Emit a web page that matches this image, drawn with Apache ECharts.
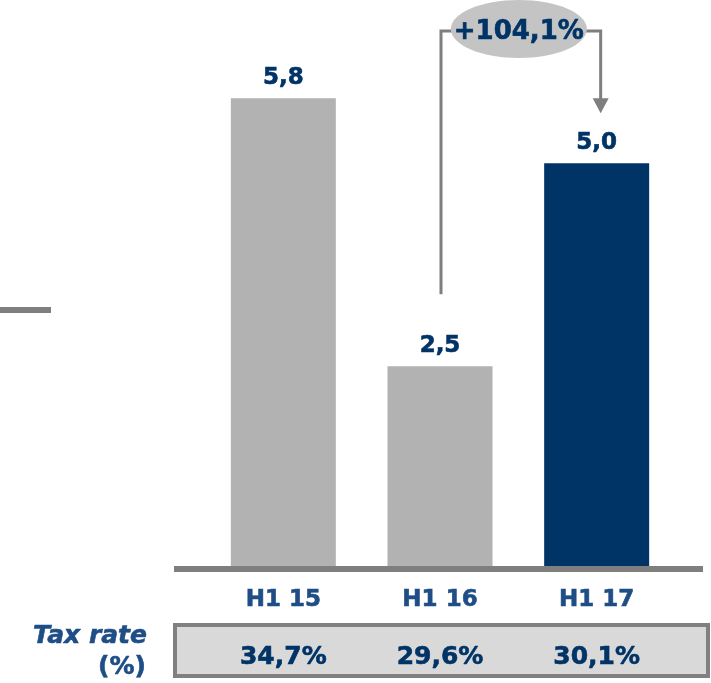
<!DOCTYPE html>
<html>
<head>
<meta charset="utf-8">
<script src="https://cdn.jsdelivr.net/npm/echarts@6/dist/echarts.min.js"></script>
<style>
  html, body { margin: 0; padding: 0; background: #fff; }
  #chart { width: 711px; height: 683px; }
</style>
</head>
<body>
<div id="chart"></div>
<script>
// datos
const categorias = ["H1 15", "H1 16", "H1 17"];
const valores = [5.8, 2.5, 5.0];
const tasaImpositiva = ["34,7%", "29,6%", "30,1%"];
const variacion = "+104,1%";
const coloresBarras = ["#b2b2b2", "#b2b2b2", "#003366"];

const fuente = "DejaVu Sans";
const azul = "#003366";
const azulClaro = "#1f4e86";
const gris = "#7f7f7f";

const myChart = echarts.init(document.getElementById("chart"));

var option = {
  animation: false,
  grid: [
    // solo para la línea base (más ancha que las barras)
    { left: 174, right: 8, top: 1, bottom: 114 },
    { left: 205, right: 36, top: 1, bottom: 114 },
  ],
  xAxis: [
    {
      gridIndex: 0,
      type: "category",
      data: [""],
      z: 5,
      axisLine: { lineStyle: { color: gris, width: 6, cap: "butt" } },
      axisTick: { show: false },
      axisLabel: { show: false },
    },
    {
      gridIndex: 1,
      type: "category",
      data: categorias,
      axisLine: { show: false },
      axisTick: { show: false },
      axisLabel: {
        margin: 20,
        color: azulClaro,
        fontFamily: fuente,
        fontWeight: "bold",
        fontSize: 23,
        textBorderColor: azulClaro,
        textBorderWidth: 0.6,
      },
    },
    {
      // fila de tasa impositiva
      gridIndex: 1,
      type: "category",
      position: "bottom",
      offset: 58,
      z: 10,
      data: tasaImpositiva,
      axisLine: { show: false },
      axisTick: { show: false },
      axisLabel: {
        margin: 18,
        color: azul,
        fontFamily: fuente,
        fontWeight: "bold",
        fontSize: 25,
        textBorderColor: azul,
        textBorderWidth: 0.6,
      },
    },
  ],
  yAxis: [
    { gridIndex: 0, type: "value", show: false },
    { gridIndex: 1, type: "value", min: 0, max: 7, show: false },
  ],
  series: [
    {
      type: "bar",
      xAxisIndex: 1,
      yAxisIndex: 1,
      barWidth: 105,
      data: valores.map((v, i) => ({
        value: v,
        itemStyle: { color: coloresBarras[i] },
      })),
      label: {
        show: true,
        position: "top",
        distance: 9,
        color: azul,
        fontFamily: fuente,
        fontWeight: "bold",
        fontSize: 23,
        textBorderColor: azul,
        textBorderWidth: 0.6,
        formatter: (p) => p.value.toFixed(1).replace(".", ","),
      },
    },
  ],
};

myChart.setOption(option);

// posiciones de las barras para la flecha de variación
const p2 = myChart.convertToPixel({ seriesIndex: 0 }, [1, valores[1]]);
const p3 = myChart.convertToPixel({ seriesIndex: 0 }, [2, valores[2]]);
const xIzq = p2[0] + 1;
const xDer = p3[0] + 4;
const yArriba = 31;
const yInicio = p2[1] - 72;
const yPunta = p3[1] - 50;
const xMedio = (xIzq + xDer) / 2 - 2;

myChart.setOption({
  graphic: [
    {
      type: "line",
      shape: { x1: 0, y1: 310, x2: 51, y2: 310 },
      style: { stroke: gris, lineWidth: 6 },
    },
    {
      type: "polyline",
      shape: {
        points: [
          [xIzq, yInicio],
          [xIzq, yArriba],
          [xDer, yArriba],
          [xDer, yPunta - 14],
        ],
      },
      style: { stroke: gris, lineWidth: 3, fill: null },
    },
    {
      type: "polygon",
      shape: {
        points: [
          [xDer - 8, yPunta - 15],
          [xDer + 8, yPunta - 15],
          [xDer, yPunta],
        ],
      },
      style: { fill: gris },
    },
    {
      type: "ellipse",
      shape: { cx: xMedio, cy: 29, rx: 68, ry: 29 },
      style: { fill: "#c4c4c4" },
      z: 20,
    },
    {
      type: "text",
      x: xMedio,
      y: 32,
      z: 21,
      style: {
        text: variacion,
        fill: azul,
        stroke: azul,
        lineWidth: 0.6,
        font: "bold 26px " + fuente,
        textAlign: "center",
        textVerticalAlign: "middle",
      },
    },
    {
      // caja de la tasa impositiva
      type: "rect",
      z: 1,
      shape: { x: 175, y: 625, width: 533, height: 51 },
      style: { fill: "#d9d9d9", stroke: "#808080", lineWidth: 4 },
    },
    {
      type: "text",
      x: 147,
      y: 636,
      style: {
        text: "Tax rate",
        fill: azulClaro,
        stroke: azulClaro,
        lineWidth: 0.6,
        font: "italic bold 25px " + fuente,
        textAlign: "right",
        textVerticalAlign: "middle",
      },
    },
    {
      type: "text",
      x: 146,
      y: 667,
      style: {
        text: "(%)",
        fill: azulClaro,
        stroke: azulClaro,
        lineWidth: 0.6,
        font: "bold 25px " + fuente,
        textAlign: "right",
        textVerticalAlign: "middle",
      },
    },
  ],
});
</script>
</body>
</html>
